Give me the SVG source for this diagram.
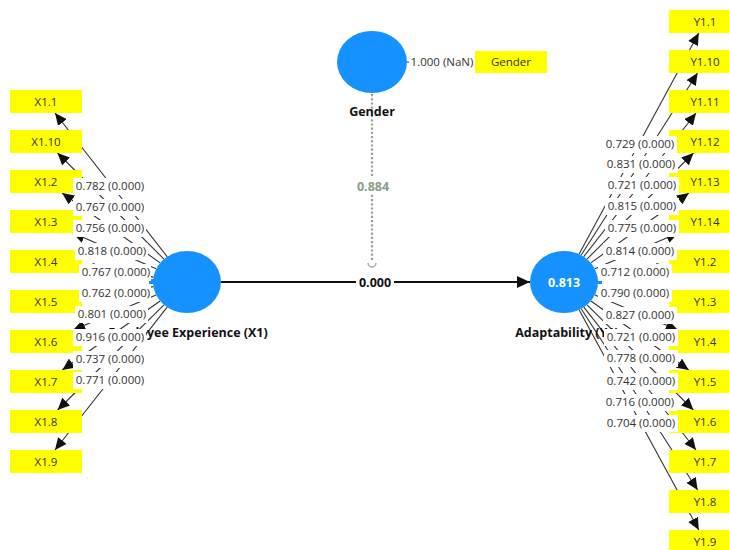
<svg xmlns="http://www.w3.org/2000/svg" width="729" height="550" viewBox="0 0 729 550">
<style>
.bg{fill:#ffffff}
.lat{fill:#1592ff}
.ind{fill:#ffff00}
.it{font-family:"Open Sans","Noto Sans",sans-serif;font-size:11.5px;fill:#333;text-anchor:middle}
.lt{font-family:"Open Sans","Noto Sans",sans-serif;font-size:11.5px;fill:#333;text-anchor:middle}
.nt{font-family:"Open Sans","Noto Sans",sans-serif;font-size:12.5px;font-weight:bold;fill:#111;text-anchor:middle}
.ld{stroke:#333;stroke-width:1.1;fill:none;marker-end:url(#ah)}
</style>
<defs>
<marker id="ah" markerUnits="userSpaceOnUse" markerWidth="13" markerHeight="11" refX="12" refY="5.5" orient="auto"><path d="M0,0 L12,5.5 L0,11 z" fill="#111"/></marker>
<marker id="ahb" markerUnits="userSpaceOnUse" markerWidth="14" markerHeight="12" refX="13" refY="6" orient="auto"><path d="M0,0 L13,6 L0,12 z" fill="#111"/></marker>
</defs>
<g id="connectors">
<line class="ld" x1="167.3" y1="256.8" x2="55" y2="113"/>
<line class="ld" x1="164" y1="259.1" x2="57.5" y2="153"/>
<line class="ld" x1="160.2" y1="262.9" x2="62.1" y2="193"/>
<line class="ld" x1="156.2" y1="268.8" x2="72.8" y2="233"/>
<line class="ld" x1="153.4" y1="277.1" x2="82" y2="266.7"/>
<line class="ld" x1="153.4" y1="286.6" x2="82" y2="296.5"/>
<line class="ld" x1="156.1" y1="295" x2="73.2" y2="330"/>
<line class="ld" x1="160.1" y1="301" x2="62.3" y2="370"/>
<line class="ld" x1="164" y1="304.8" x2="57.6" y2="410"/>
<line class="ld" x1="167.2" y1="307.2" x2="55" y2="450"/>
<line class="ld" x1="579" y1="254.2" x2="698.8" y2="33"/>
<line class="ld" x1="581.1" y1="255.2" x2="697.6" y2="73"/>
<line class="ld" x1="583.7" y1="256.7" x2="696" y2="113"/>
<line class="ld" x1="587" y1="259.1" x2="693.5" y2="153"/>
<line class="ld" x1="590.8" y1="262.9" x2="688.9" y2="193"/>
<line class="ld" x1="594.8" y1="268.8" x2="678.2" y2="233"/>
<line class="ld" x1="597.6" y1="277.1" x2="669" y2="266.7"/>
<line class="ld" x1="597.6" y1="286.6" x2="669" y2="296.5"/>
<line class="ld" x1="594.9" y1="295" x2="677.8" y2="330"/>
<line class="ld" x1="590.9" y1="301" x2="688.7" y2="370"/>
<line class="ld" x1="587" y1="304.8" x2="693.4" y2="410"/>
<line class="ld" x1="583.8" y1="307.2" x2="696" y2="450"/>
<line class="ld" x1="581.2" y1="308.8" x2="697.6" y2="490"/>
<line class="ld" x1="579.1" y1="309.8" x2="698.8" y2="530"/>
<line x1="406" y1="62" x2="475" y2="62" stroke="#333" stroke-width="1.1"/>
<line x1="221" y1="282" x2="530" y2="282" stroke="#111" stroke-width="2" marker-end="url(#ahb)"/>
<line x1="372" y1="94" x2="372" y2="262" stroke="#95a595" stroke-width="2.2" stroke-dasharray="2.2,2"/>
<path d="M368,263 A4,4 0 0 0 376,263" fill="none" stroke="#95a595" stroke-width="1.3"/>
</g>
<g id="X1.1"><rect class="ind" x="10" y="90" width="72" height="23"/><text class="it" x="46" y="105.5">X1.1</text></g>
<g id="X1.10"><rect class="ind" x="10" y="130" width="72" height="23"/><text class="it" x="46" y="145.5">X1.10</text></g>
<g id="X1.2"><rect class="ind" x="10" y="170" width="72" height="23"/><text class="it" x="46" y="185.5">X1.2</text></g>
<g id="X1.3"><rect class="ind" x="10" y="210" width="72" height="23"/><text class="it" x="46" y="225.5">X1.3</text></g>
<g id="X1.4"><rect class="ind" x="10" y="250" width="72" height="23"/><text class="it" x="46" y="265.5">X1.4</text></g>
<g id="X1.5"><rect class="ind" x="10" y="290" width="72" height="23"/><text class="it" x="46" y="305.5">X1.5</text></g>
<g id="X1.6"><rect class="ind" x="10" y="330" width="72" height="23"/><text class="it" x="46" y="345.5">X1.6</text></g>
<g id="X1.7"><rect class="ind" x="10" y="370" width="72" height="23"/><text class="it" x="46" y="385.5">X1.7</text></g>
<g id="X1.8"><rect class="ind" x="10" y="410" width="72" height="23"/><text class="it" x="46" y="425.5">X1.8</text></g>
<g id="X1.9"><rect class="ind" x="10" y="450" width="72" height="23"/><text class="it" x="46" y="465.5">X1.9</text></g>
<g id="Y1.1"><rect class="ind" x="669" y="10" width="72" height="23"/><text class="it" x="705" y="25.5">Y1.1</text></g>
<g id="Y1.10"><rect class="ind" x="669" y="50" width="72" height="23"/><text class="it" x="705" y="65.5">Y1.10</text></g>
<g id="Y1.11"><rect class="ind" x="669" y="90" width="72" height="23"/><text class="it" x="705" y="105.5">Y1.11</text></g>
<g id="Y1.12"><rect class="ind" x="669" y="130" width="72" height="23"/><text class="it" x="705" y="145.5">Y1.12</text></g>
<g id="Y1.13"><rect class="ind" x="669" y="170" width="72" height="23"/><text class="it" x="705" y="185.5">Y1.13</text></g>
<g id="Y1.14"><rect class="ind" x="669" y="210" width="72" height="23"/><text class="it" x="705" y="225.5">Y1.14</text></g>
<g id="Y1.2"><rect class="ind" x="669" y="250" width="72" height="23"/><text class="it" x="705" y="265.5">Y1.2</text></g>
<g id="Y1.3"><rect class="ind" x="669" y="290" width="72" height="23"/><text class="it" x="705" y="305.5">Y1.3</text></g>
<g id="Y1.4"><rect class="ind" x="669" y="330" width="72" height="23"/><text class="it" x="705" y="345.5">Y1.4</text></g>
<g id="Y1.5"><rect class="ind" x="669" y="370" width="72" height="23"/><text class="it" x="705" y="385.5">Y1.5</text></g>
<g id="Y1.6"><rect class="ind" x="669" y="410" width="72" height="23"/><text class="it" x="705" y="425.5">Y1.6</text></g>
<g id="Y1.7"><rect class="ind" x="669" y="450" width="72" height="23"/><text class="it" x="705" y="465.5">Y1.7</text></g>
<g id="Y1.8"><rect class="ind" x="669" y="490" width="72" height="23"/><text class="it" x="705" y="505.5">Y1.8</text></g>
<g id="Y1.9"><rect class="ind" x="669" y="530" width="72" height="23"/><text class="it" x="705" y="545.5">Y1.9</text></g>
<g id="Gender_ind"><rect class="ind" x="475" y="51" width="72" height="22"/><text class="it" x="511" y="66">Gender</text></g>
<g id="X1"><ellipse class="lat" cx="187" cy="282" rx="34" ry="31"/><rect class="lat" x="149" y="279" width="6" height="5"/><text class="nt" x="188" y="336.5">Employee Experience (X1)</text></g>
<g id="Y1"><ellipse class="lat" cx="564" cy="282" rx="34" ry="31"/><rect class="lat" x="596" y="279" width="6" height="5"/><text class="nt" x="567" y="336.5">Adaptability (Y1)</text><text class="nt" x="564" y="286.5" style="fill:#fff">0.813</text></g>
<g id="Gender"><ellipse class="lat" cx="372" cy="62" rx="35" ry="31"/><text class="nt" x="372" y="115.5">Gender</text></g>
<g id="labels">
<rect class="bg" x="409" y="53" width="66" height="18"/><text class="lt" x="442" y="66">1.000 (NaN)</text>
<rect class="bg" x="356" y="275" width="38" height="15"/><text class="nt" x="375" y="286.5">0.000</text>
<rect class="bg" x="355" y="178" width="36" height="16"/><text class="nt" x="373" y="190.5" style="fill:#8a9c8a">0.884</text>
<rect class="bg" x="73" y="178" width="73" height="17"/><text class="lt" x="110" y="190">0.782 (0.000)</text>
<rect class="bg" x="73" y="199" width="73" height="17"/><text class="lt" x="110" y="211">0.767 (0.000)</text>
<rect class="bg" x="73" y="220" width="73" height="17"/><text class="lt" x="110" y="232">0.756 (0.000)</text>
<rect class="bg" x="75" y="243" width="73" height="17"/><text class="lt" x="112" y="255">0.818 (0.000)</text>
<rect class="bg" x="79" y="264" width="72" height="17"/><text class="lt" x="116" y="276">0.767 (0.000)</text>
<rect class="bg" x="79" y="285" width="72" height="17"/><text class="lt" x="116" y="297">0.762 (0.000)</text>
<rect class="bg" x="75" y="306" width="73" height="17"/><text class="lt" x="112" y="318">0.801 (0.000)</text>
<rect class="bg" x="73" y="329" width="73" height="17"/><text class="lt" x="110" y="341">0.916 (0.000)</text>
<rect class="bg" x="73" y="351" width="73" height="17"/><text class="lt" x="110" y="363">0.737 (0.000)</text>
<rect class="bg" x="73" y="372" width="73" height="17"/><text class="lt" x="110" y="384">0.771 (0.000)</text>
<rect class="bg" x="603" y="136" width="74" height="17"/><text class="lt" x="640" y="148">0.729 (0.000)</text>
<rect class="bg" x="604" y="156" width="74" height="17"/><text class="lt" x="641" y="168">0.831 (0.000)</text>
<rect class="bg" x="605" y="177" width="74" height="17"/><text class="lt" x="642" y="189">0.721 (0.000)</text>
<rect class="bg" x="605" y="198" width="74" height="17"/><text class="lt" x="642" y="210">0.815 (0.000)</text>
<rect class="bg" x="605" y="220" width="74" height="17"/><text class="lt" x="642" y="232">0.775 (0.000)</text>
<rect class="bg" x="603" y="243" width="74" height="17"/><text class="lt" x="640" y="255">0.814 (0.000)</text>
<rect class="bg" x="598" y="264" width="74" height="17"/><text class="lt" x="635" y="276">0.712 (0.000)</text>
<rect class="bg" x="598" y="285" width="74" height="17"/><text class="lt" x="635" y="297">0.790 (0.000)</text>
<rect class="bg" x="603" y="307" width="74" height="17"/><text class="lt" x="640" y="319">0.827 (0.000)</text>
<rect class="bg" x="604" y="329" width="74" height="17"/><text class="lt" x="641" y="341">0.721 (0.000)</text>
<rect class="bg" x="604" y="350" width="74" height="17"/><text class="lt" x="641" y="362">0.778 (0.000)</text>
<rect class="bg" x="604" y="373" width="74" height="17"/><text class="lt" x="641" y="385">0.742 (0.000)</text>
<rect class="bg" x="603" y="394" width="74" height="17"/><text class="lt" x="640" y="406">0.716 (0.000)</text>
<rect class="bg" x="604" y="415" width="74" height="17"/><text class="lt" x="641" y="427">0.704 (0.000)</text>
</g>
</svg>
